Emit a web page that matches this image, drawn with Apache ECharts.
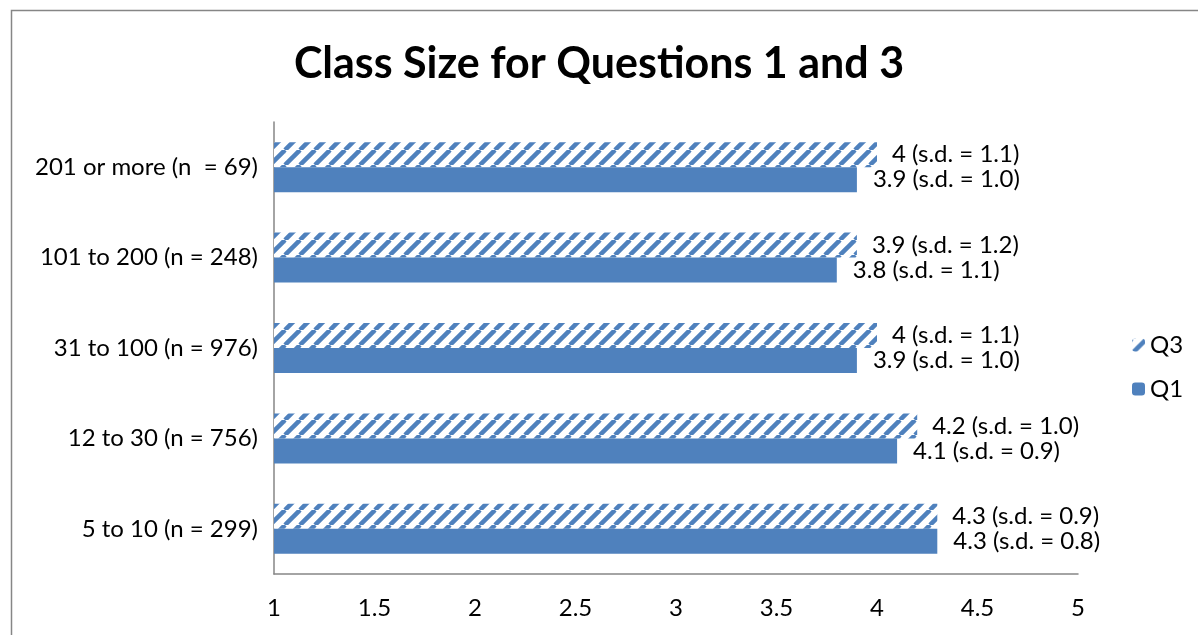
<!DOCTYPE html>
<html>
<head>
    <meta charset="utf-8" />
    <script src="https://cdn.jsdelivr.net/npm/echarts@6/dist/echarts.min.js"></script>
    <style>
        html, body { margin: 0; padding: 0; background: #fff; }
        #main { width: 1198px; height: 635px; }
    </style>
</head>
<body>
    <div id="main"></div>
    <script type="text/javascript">
        // data, bottom category first (echarts draws category axis from the bottom up)
        var categories = ['5 to 10 (n = 299)', '12 to 30 (n = 756)', '31 to 100 (n = 976)', '101 to 200 (n = 248)', '201 or more (n  = 69)'];
        var q1Values = [4.3, 4.1, 3.9, 3.8, 3.9];
        var q1Sd = ['0.8', '0.9', '1.0', '1.1', '1.0'];
        var q3Values = [4.3, 4.2, 4, 3.9, 4];
        var q3Sd = ['0.9', '1.0', '1.1', '1.2', '1.1'];
        var xTicks = [1, 1.5, 2, 2.5, 3, 3.5, 4, 4.5, 5];

        var blue = '#4F81BD';
        var font = 'Lato';
        var fs = 24;

        // diagonal hatch for Q3
        function hatch() {
            var s = 15;
            var c = document.createElement('canvas');
            c.width = s; c.height = s;
            var ctx = c.getContext('2d');
            ctx.fillStyle = '#fff';
            ctx.fillRect(0, 0, s, s);
            ctx.strokeStyle = blue;
            ctx.lineWidth = 4.5;
            for (var k = -1; k <= 1; k++) {
                ctx.beginPath();
                ctx.moveTo(k * s, s);
                ctx.lineTo(k * s + s, 0);
                ctx.stroke();
            }
            return c;
        }

        var myChart = echarts.init(document.getElementById('main'));
        var option = {
            animation: false,
            textStyle: { fontFamily: font },
            title: {
                text: 'Class Size for Questions 1 and 3',
                left: 'center',
                top: 38,
                textStyle: { fontSize: 43, fontWeight: 'bold', color: '#000', fontFamily: font }
            },
            graphic: [{
                type: 'rect',
                shape: { x: 11.5, y: 10.5, width: 1400, height: 800 },
                style: { fill: 'none', stroke: '#868686', lineWidth: 1.5 },
                silent: true
            }],
            legend: {
                data: ['Q3', 'Q1'],
                orient: 'vertical',
                left: 1127,
                top: 328,
                itemWidth: 13,
                itemHeight: 13,
                itemGap: 20,
                textStyle: { fontSize: fs, color: '#000', fontFamily: font }
            },
            grid: { left: 274, right: 120, top: 122, bottom: 61 },
            xAxis: {
                type: 'value',
                min: 1,
                max: 5,
                interval: 0.5,
                axisLine: { show: true, lineStyle: { color: '#868686', width: 1.5 } },
                axisTick: { show: false },
                splitLine: { show: false },
                axisLabel: {
                    fontSize: fs, color: '#000', margin: 22,
                    formatter: function (v) { return xTicks.indexOf(v) >= 0 ? String(v) : ''; }
                }
            },
            yAxis: {
                type: 'category',
                data: categories,
                axisLine: { show: true, lineStyle: { color: '#868686', width: 1.5 } },
                axisTick: { show: false },
                axisLabel: { fontSize: fs, color: '#000', margin: 16 }
            },
            series: [{
                name: 'Q3',
                type: 'bar',
                data: q3Values,
                barWidth: 25,
                barGap: '0%',
                itemStyle: { color: { image: hatch(), repeat: 'repeat' } },
                label: {
                    show: true, position: 'right', distance: 15,
                    fontSize: fs, color: '#000',
                    formatter: function (p) { return p.value + ' (s.d. = ' + q3Sd[p.dataIndex] + ')'; }
                }
            }, {
                name: 'Q1',
                type: 'bar',
                data: q1Values,
                barWidth: 25,
                barGap: '0%',
                itemStyle: { color: blue },
                label: {
                    show: true, position: 'right', distance: 16,
                    fontSize: fs, color: '#000',
                    formatter: function (p) { return p.value + ' (s.d. = ' + q1Sd[p.dataIndex] + ')'; }
                }
            }]
        };
        myChart.setOption(option);
    </script>
</body>
</html>
